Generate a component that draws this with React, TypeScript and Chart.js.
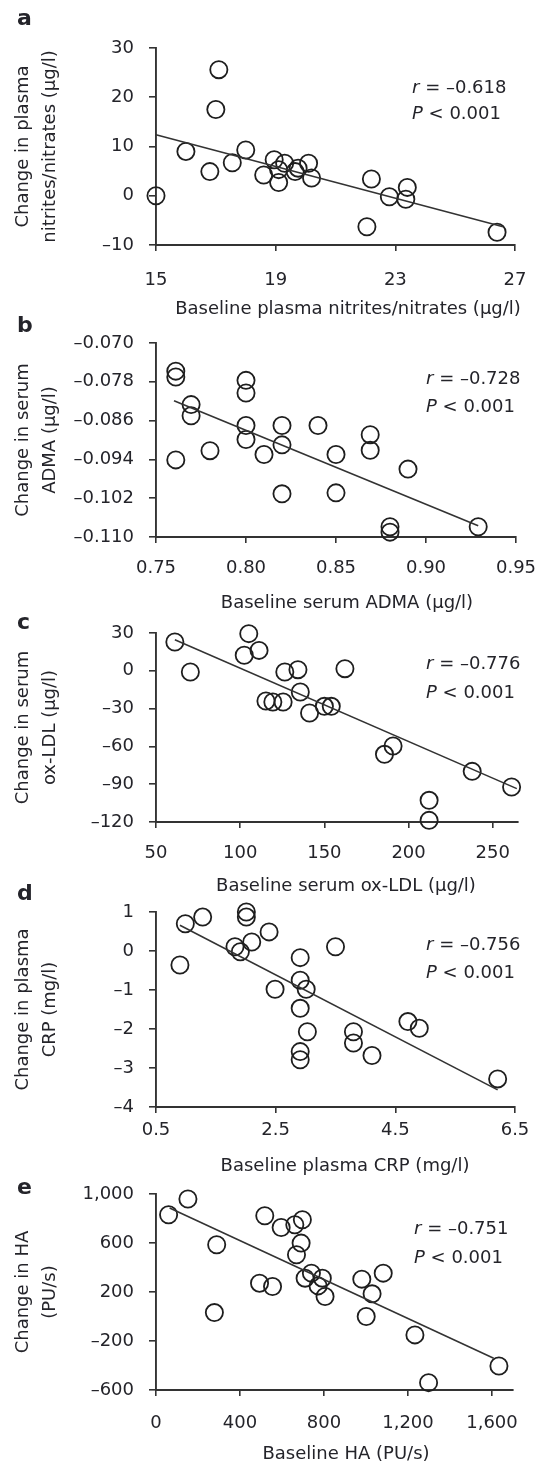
import React, { useEffect, useRef } from 'react';
import { Chart, registerables } from 'chart.js';

Chart.register(...registerables);

// ---------------- Panel a: nitrites/nitrates ----------------
const aBaseline = [15.0, 16.0, 16.8, 17.1, 17.0, 17.55, 18.0, 18.6, 18.95, 19.1, 19.3, 19.1, 19.65, 19.75, 20.1, 20.2, 22.2, 22.05, 22.8, 23.35, 23.4, 26.4];
const aChange = [0, 9, 4.9, 25.6, 17.5, 6.7, 9.3, 4.2, 7.3, 2.7, 6.6, 5.3, 4.9, 5.6, 6.6, 3.6, 3.4, -6.3, -0.2, -0.7, 1.7, -7.4];
const aFitX = [15, 26.6];
const aFitY = [12.4, -6.3];
const aXTicks = [15, 19, 23, 27];
const aXTickLabels = ['15', '19', '23', '27'];
const aYTicks = [-10, 0, 10, 20, 30];
const aYTickLabels = ['–10', '0', '10', '20', '30'];
const aXMax = 27;

// ---------------- Panel b: ADMA ----------------
const bBaseline = [0.761, 0.761, 0.761, 0.7695, 0.7695, 0.78, 0.8, 0.8, 0.8, 0.8, 0.81, 0.82, 0.82, 0.82, 0.84, 0.85, 0.85, 0.869, 0.869, 0.89, 0.88, 0.88, 0.929];
const bChange = [-0.0758, -0.077, -0.0941, -0.0827, -0.085, -0.0922, -0.0777, -0.0803, -0.087, -0.0899, -0.093, -0.087, -0.091, -0.1011, -0.087, -0.093, -0.1009, -0.0889, -0.0921, -0.096, -0.1079, -0.109, -0.1079];
const bFitX = [0.76, 0.929];
const bFitY = [-0.0819, -0.1077];
const bXTicks = [0.75, 0.8, 0.85, 0.9, 0.95];
const bXTickLabels = ['0.75', '0.80', '0.85', '0.90', '0.95'];
const bYTicks = [-0.11, -0.102, -0.094, -0.086, -0.078, -0.07];
const bYTickLabels = ['–0.110', '–0.102', '–0.094', '–0.086', '–0.078', '–0.070'];
const bXMax = 0.95;

// ---------------- Panel c: ox-LDL ----------------
const cBaseline = [61.2, 70.4, 105.1, 102.4, 111.2, 115.3, 119.4, 125.5, 126.5, 134.3, 135.7, 141.2, 150, 154.1, 162.2, 185.7, 190.8, 212.2, 212.2, 237.8, 261.2];
const cChange = [22.9, -1.0, 29.5, 12.3, 16.2, -24.0, -24.8, -24.8, -1.0, 0.9, -16.8, -33.5, -28.2, -28.2, 1.7, -66.3, -59.7, -102.8, -118.7, -79.8, -92.2];
const cFitX = [61.2, 264.3];
const cFitY = [24.7, -93.5];
const cXTicks = [50, 100, 150, 200, 250];
const cXTickLabels = ['50', '100', '150', '200', '250'];
const cYTicks = [-120, -90, -60, -30, 0, 30];
const cYTickLabels = ['–120', '–90', '–60', '–30', '0', '30'];
const cXMax = 265;

// ---------------- Panel d: CRP ----------------
const dBaseline = [0.99, 0.9, 1.28, 1.82, 1.91, 2.01, 2.01, 2.1, 2.39, 2.49, 2.91, 2.91, 2.91, 2.91, 2.91, 3.01, 3.03, 3.5, 3.8, 3.8, 4.11, 4.71, 4.9, 6.21];
const dChange = [0.7, -0.36, 0.87, 0.11, -0.02, 1.0, 0.87, 0.23, 0.49, -0.98, -0.17, -0.75, -1.47, -2.58, -2.79, -0.98, -2.07, 0.11, -2.07, -2.36, -2.68, -1.81, -1.98, -3.28];
const dFitX = [0.9, 6.21];
const dFitY = [0.66, -3.56];
const dXTicks = [0.5, 2.5, 4.5, 6.5];
const dXTickLabels = ['0.5', '2.5', '4.5', '6.5'];
const dYTicks = [-4, -3, -2, -1, 0, 1];
const dYTickLabels = ['–4', '–3', '–2', '–1', '0', '1'];
const dXMax = 6.5;

// ---------------- Panel e: HA ----------------
const eBaseline = [60, 152, 289, 278, 493, 555, 518, 596, 661, 697, 691, 669, 740, 710, 772, 792, 805, 980, 1001, 1029, 1082, 1233, 1298, 1633];
const eChange = [831, 959, 586, 32, 272, 245, 823, 727, 749, 790, 599, 504, 354, 313, 250, 313, 163, 305, 0, 185, 354, -150, -540, -404];
const eFitX = [65, 1608];
const eFitY = [886, -341];
const eXTicks = [0, 400, 800, 1200, 1600];
const eXTickLabels = ['0', '400', '800', '1,200', '1,600'];
const eYTicks = [-600, -200, 200, 600, 1000];
const eYTickLabels = ['–600', '–200', '200', '600', '1,000'];
const eXMax = 1700;

// ---------------- Texts ----------------
const letters = ['a', 'b', 'c', 'd', 'e'];
const xTitles = [
  'Baseline plasma nitrites/nitrates (µg/l)',
  'Baseline serum ADMA (µg/l)',
  'Baseline serum ox-LDL (µg/l)',
  'Baseline plasma CRP (mg/l)',
  'Baseline HA (PU/s)',
];
const yTitles = [
  ['Change in plasma', 'nitrites/nitrates (µg/l)'],
  ['Change in serum', 'ADMA (µg/l)'],
  ['Change in serum', 'ox-LDL (µg/l)'],
  ['Change in plasma', 'CRP (mg/l)'],
  ['Change in HA', '(PU/s)'],
];
const rValues = ['–0.618', '–0.728', '–0.776', '–0.756', '–0.751'];
const pValues = ['< 0.001', '< 0.001', '< 0.001', '< 0.001', '< 0.001'];

const panels = [
  { x: aBaseline, y: aChange, fitX: aFitX, fitY: aFitY, xTicks: aXTicks, xLabels: aXTickLabels, yTicks: aYTicks, yLabels: aYTickLabels, xMax: aXMax },
  { x: bBaseline, y: bChange, fitX: bFitX, fitY: bFitY, xTicks: bXTicks, xLabels: bXTickLabels, yTicks: bYTicks, yLabels: bYTickLabels, xMax: bXMax },
  { x: cBaseline, y: cChange, fitX: cFitX, fitY: cFitY, xTicks: cXTicks, xLabels: cXTickLabels, yTicks: cYTicks, yLabels: cYTickLabels, xMax: cXMax },
  { x: dBaseline, y: dChange, fitX: dFitX, fitY: dFitY, xTicks: dXTicks, xLabels: dXTickLabels, yTicks: dYTicks, yLabels: dYTickLabels, xMax: dXMax },
  { x: eBaseline, y: eChange, fitX: eFitX, fitY: eFitY, xTicks: eXTicks, xLabels: eXTickLabels, yTicks: eYTicks, yLabels: eYTickLabels, xMax: eXMax },
];

// ---------------- Layout (page pixels) ----------------
const layouts = [
  { axisTop: 48, axisBottom: 245, axisRight: 515, xLabelY: 280, titleX: 348, titleY: 308, letterY: 18, statLeft: 412, rY: 87, pY: 113 },
  { axisTop: 343, axisBottom: 537, axisRight: 516, xLabelY: 568, titleX: 347, titleY: 602, letterY: 325, statLeft: 426, rY: 378, pY: 406 },
  { axisTop: 633, axisBottom: 822, axisRight: 518, xLabelY: 853, titleX: 346, titleY: 885, letterY: 622, statLeft: 426, rY: 663, pY: 692 },
  { axisTop: 912, axisBottom: 1107, axisRight: 515, xLabelY: 1130, titleX: 345, titleY: 1165, letterY: 893, statLeft: 426, rY: 944, pY: 972 },
  { axisTop: 1194, axisBottom: 1390, axisRight: 513, xLabelY: 1423, titleX: 346, titleY: 1453, letterY: 1187, statLeft: 414, rY: 1228, pY: 1257 },
];

const W = 539;
const FONT = '"DejaVu Sans", "Liberation Sans", sans-serif';
const TEXT = '#24242a';
const AXIS = '#333333';
const POINT = '#1e1e1e';
const Y_AXIS_X = 156;
const TOP_PAD = 30;
const X_AXIS_H = 60;
const X_TICK_LEN = 6;

function ScatterPanel({ idx }: { idx: number }) {
  const ref = useRef<HTMLCanvasElement>(null);
  const p = panels[idx];
  const L = layouts[idx];
  const top = L.axisTop - TOP_PAD;
  const height = L.axisBottom + X_AXIS_H - top;

  useEffect(() => {
    const lh = Math.round(2 * (L.xLabelY - L.axisBottom - X_TICK_LEN));
    const chart = new Chart(ref.current as HTMLCanvasElement, {
      type: 'scatter',
      data: {
        datasets: [
          {
            type: 'line',
            data: p.fitX.map((v, i) => ({ x: v, y: p.fitY[i] })),
            borderColor: AXIS,
            borderWidth: 1.6,
            pointRadius: 0,
            fill: false,
            tension: 0,
            clip: false,
          } as any,
          {
            type: 'scatter',
            data: p.x.map((v, i) => ({ x: v, y: p.y[i] })),
            pointRadius: 8.6,
            pointHoverRadius: 8.6,
            borderWidth: 1.8,
            borderColor: POINT,
            backgroundColor: 'rgba(255,255,255,0)',
            pointStyle: 'circle',
            clip: false,
          } as any,
        ],
      },
      options: {
        responsive: false,
        animation: false,
        devicePixelRatio: 1,
        events: [],
        layout: { padding: { top: TOP_PAD, left: 0, right: W - L.axisRight, bottom: 0 } },
        plugins: { legend: { display: false }, tooltip: { enabled: false }, title: { display: false } },
        scales: {
          x: {
            type: 'linear',
            min: p.xTicks[0],
            max: p.xMax,
            afterBuildTicks: (s: any) => {
              s.ticks = p.xTicks.map((v) => ({ value: v }));
            },
            afterFit: (s: any) => {
              s.height = X_AXIS_H;
            },
            ticks: {
              callback: (_v: any, i: number) => p.xLabels[i],
              font: { family: FONT, size: 18, lineHeight: `${lh}px` },
              color: TEXT,
              padding: 0,
              maxRotation: 0,
              minRotation: 0,
              autoSkip: false,
            },
            grid: { display: true, drawOnChartArea: false, drawTicks: true, tickLength: X_TICK_LEN, color: AXIS, lineWidth: 1.6 },
            border: { display: true, color: AXIS, width: 1.9 },
          },
          y: {
            type: 'linear',
            min: p.yTicks[0],
            max: p.yTicks[p.yTicks.length - 1],
            afterBuildTicks: (s: any) => {
              s.ticks = p.yTicks.map((v) => ({ value: v }));
            },
            afterFit: (s: any) => {
              s.width = Y_AXIS_X;
            },
            ticks: {
              callback: (_v: any, i: number) => p.yLabels[i],
              font: { family: FONT, size: 18 },
              color: TEXT,
              padding: 15,
              autoSkip: false,
            },
            grid: { display: true, drawOnChartArea: false, drawTicks: true, tickLength: 7, color: AXIS, lineWidth: 1.6 },
            border: { display: true, color: AXIS, width: 1.9 },
            title: {
              display: true,
              text: yTitles[idx],
              font: { family: FONT, size: 18, lineHeight: 1.5 },
              color: TEXT,
              padding: { top: 9.5, bottom: 0 },
            },
          },
        },
      } as any,
    });
    return () => chart.destroy();
  }, []);

  return (
    <canvas
      ref={ref}
      width={W}
      height={height}
      style={{ position: 'absolute', left: 0, top, width: W, height, display: 'block' }}
    />
  );
}

function PanelTexts({ idx }: { idx: number }) {
  const L = layouts[idx];
  const txt: React.CSSProperties = { position: 'absolute', fontFamily: FONT, fontSize: 18, lineHeight: '22px', color: TEXT, whiteSpace: 'nowrap' };
  return (
    <>
      <div style={{ ...txt, left: 17, top: L.letterY - 13, fontSize: 22, lineHeight: '26px', fontWeight: 'bold' }}>{letters[idx]}</div>
      <div style={{ ...txt, left: L.titleX, top: L.titleY - 11, transform: 'translateX(-50%)' }}>{xTitles[idx]}</div>
      <div style={{ ...txt, left: L.statLeft, top: L.rY - 11 }}>
        <i>r</i> = {rValues[idx]}
      </div>
      <div style={{ ...txt, left: L.statLeft, top: L.pY - 11 }}>
        <i>P</i> {pValues[idx]}
      </div>
    </>
  );
}

export default function App() {
  return (
    <div style={{ position: 'absolute', left: 0, top: 0, width: W, height: 1468, background: '#ffffff', overflow: 'hidden' }}>
      {panels.map((_, i) => (
        <ScatterPanel key={'c' + i} idx={i} />
      ))}
      {panels.map((_, i) => (
        <PanelTexts key={'t' + i} idx={i} />
      ))}
    </div>
  );
}
